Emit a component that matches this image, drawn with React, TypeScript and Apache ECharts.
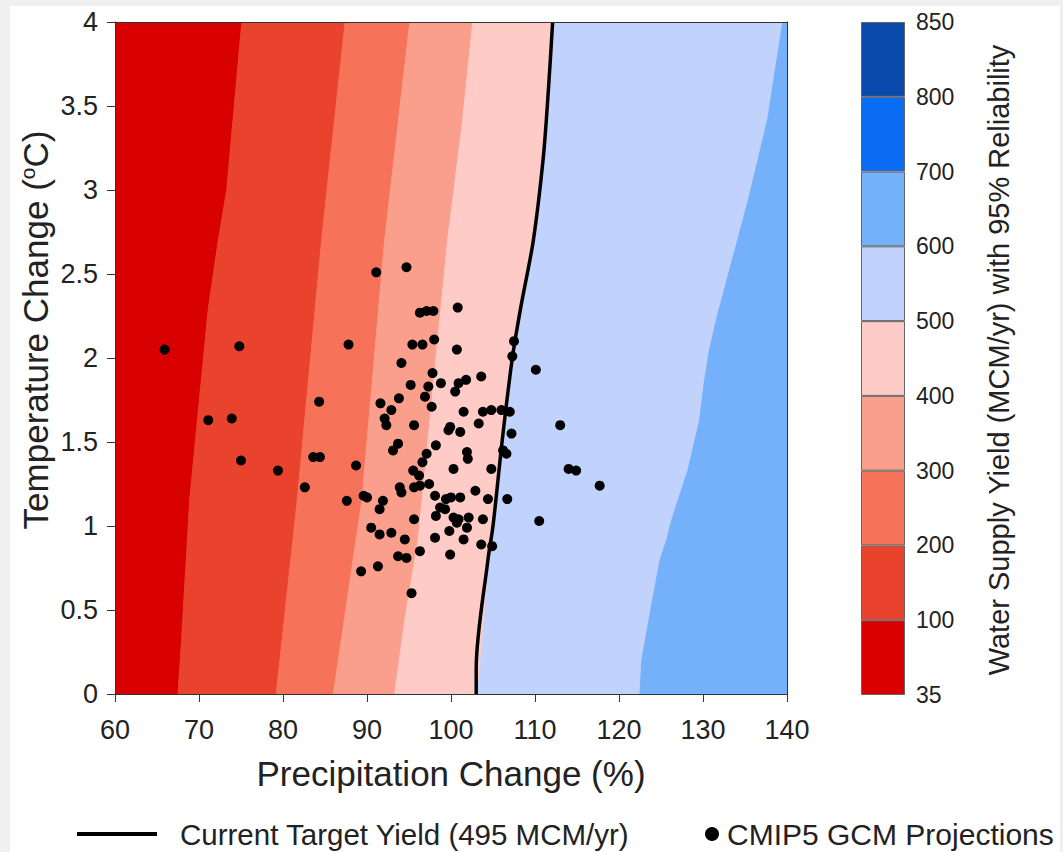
import React, { useEffect, useRef } from 'react';
import * as echarts from 'echarts';

const FONT = '"Liberation Sans", Arial, Helvetica, sans-serif';

// Colour-bar levels (MCM/yr) and band colours, bottom to top
const cbLabels = ['35', '100', '200', '300', '400', '500', '600', '700', '800', '850'];
const cbColors = ['#d80000', '#e9432d', '#f6735a', '#fa9f8b', '#fecbc7', '#c1d3fc', '#75b0fb', '#0a6bf3', '#0a4aad'];

// Contour boundaries: [temperature change, precipitation change]
const b100 = [[0, 67.5], [0.3, 67.9], [1.16, 68.9], [2.29, 71.1], [2.7, 72.3], [3.0, 73.3], [4, 75.1]];
const b200 = [[0, 79.2], [1.155, 81.7], [2.7, 84.6], [4, 87.4]];
const b300 = [[0, 86.0], [1.155, 89.4], [2.7, 92.1], [4, 95.1]];
const b400 = [[0, 93.3], [0.44, 94.5], [0.92, 96.1], [2.7, 99.6], [3.42, 101.4], [4, 102.6]];
const b500 = [[0, 103.2], [0.8, 104.6], [1.0, 105.2], [1.51, 106.3], [2.0, 107.5], [2.3, 108.5], [2.7, 110.0], [3.2, 111.2], [3.6, 111.8], [4, 112.4]];
const b600 = [[0, 122.5], [0.2, 122.7], [0.56, 124.0], [0.8, 124.9], [0.92, 125.7], [1.04, 126.3], [1.33, 128.2], [1.63, 129.6], [1.87, 130.2], [2.03, 130.7], [2.23, 131.6], [2.94, 135.4], [3.42, 137.7], [4, 139.5]];
const leftEdge = [[0, 60], [4, 60]];
const rightEdge = [[0, 140], [4, 140]];
const boundaries = [leftEdge, b100, b200, b300, b400, b500, b600, rightEdge];

// Current target yield (495 MCM/yr) line: [precip, temp]
const targetLine = [[103.0, 0], [103.0, 0.15], [104.4, 0.8], [105.0, 1.0], [106.1, 1.51], [107.3, 2.0], [108.3, 2.3], [109.8, 2.7], [111.0, 3.2], [111.6, 3.6], [112.1, 4]];

// CMIP5 GCM projections: [precip change %, temperature change °C]
const gcmPoints = [
  [65.9, 2.05], [74.8, 2.07], [91.1, 2.51], [94.7, 2.54], [96.3, 2.27], [97.1, 2.28], [97.9, 2.28],
  [87.8, 2.08], [95.4, 2.08], [96.6, 2.08], [98.0, 2.11], [94.1, 1.97], [97.8, 1.91], [95.2, 1.84],
  [97.3, 1.83], [98.8, 1.85], [93.8, 1.76], [96.9, 1.77], [97.7, 1.71], [84.3, 1.74], [91.6, 1.73],
  [92.9, 1.69], [71.1, 1.63], [73.9, 1.64], [92.1, 1.64], [92.3, 1.6], [95.6, 1.6], [98.2, 1.48],
  [93.7, 1.49], [93.1, 1.45], [97.1, 1.43], [96.6, 1.38], [75.0, 1.39], [79.4, 1.33], [83.6, 1.41],
  [84.4, 1.41], [88.7, 1.36], [95.5, 1.33], [96.2, 1.3], [95.6, 1.23], [96.3, 1.24], [97.4, 1.25],
  [93.9, 1.23], [94.1, 1.2], [82.6, 1.23], [98.1, 1.18], [87.6, 1.15], [89.6, 1.18], [90.0, 1.17],
  [99.7, 1.57], [99.9, 1.59], [101.1, 1.56], [103.3, 1.61], [107.2, 1.55], [113.0, 1.6], [101.9, 1.44],
  [102.0, 1.4], [100.3, 1.34], [104.8, 1.34], [106.2, 1.45], [106.6, 1.43], [114.0, 1.34], [114.9, 1.33],
  [117.7, 1.24], [91.9, 1.15], [91.5, 1.1], [99.4, 1.16], [100.0, 1.17], [101.1, 1.17], [102.9, 1.21],
  [104.4, 1.16], [106.7, 1.16], [110.5, 1.03], [98.7, 1.11], [99.3, 1.1], [98.2, 1.06], [100.3, 1.05],
  [100.9, 1.04], [100.7, 1.02], [102.1, 1.05], [103.8, 1.04], [101.9, 0.99], [99.8, 0.97], [95.6, 1.04],
  [90.5, 0.99], [91.5, 0.95], [92.9, 0.96], [94.5, 0.92], [98.1, 0.93], [101.5, 0.92], [103.6, 0.89],
  [104.9, 0.88], [96.3, 0.85], [93.7, 0.82], [94.7, 0.81], [99.9, 0.83], [89.3, 0.73], [91.3, 0.76],
  [95.3, 0.6], [100.8, 2.3], [100.7, 2.05], [107.5, 2.1], [107.3, 2.01], [110.1, 1.93], [100.9, 1.85],
  [101.8, 1.87], [100.5, 1.8], [103.6, 1.89], [101.5, 1.68], [103.8, 1.68], [104.8, 1.69], [106.0, 1.69],
  [107.0, 1.68]
];

const LINE_NAME = 'Current Target Yield (495 MCM/yr)';
const DOT_NAME = 'CMIP5 GCM Projections';

export default function App() {
  const ref = useRef<HTMLDivElement>(null);
  useEffect(() => {
    const chart = echarts.init(ref.current as HTMLDivElement, null, { renderer: 'svg' });
    const axisCol = '#333';
    const bandData = boundaries.slice(0, boundaries.length - 1).map((_, i) => [i]);
    const option: any = {
      animation: false,
      backgroundColor: '#ffffff',
      textStyle: { fontFamily: FONT },
      grid: [
        { left: 105, top: 16, width: 672, height: 672 },
        { left: 851, top: 16, width: 44, height: 673 },
      ],
      xAxis: [
        {
          gridIndex: 0, type: 'value', min: 60, max: 140, interval: 10, z: 10,
          axisLine: { show: true, onZero: false, lineStyle: { color: axisCol, width: 1 } },
          axisTick: { show: true, length: 8, lineStyle: { color: axisCol } },
          axisLabel: { fontSize: 27, color: '#222', margin: 22, fontFamily: FONT },
          splitLine: { show: false },
          name: 'Precipitation Change (%)', nameLocation: 'middle', nameGap: 62,
          nameTextStyle: { fontSize: 35, color: '#222', fontFamily: FONT },
        },
        {
          gridIndex: 0, type: 'value', position: 'top', min: 60, max: 140, z: 10,
          axisLine: { show: true, onZero: false, lineStyle: { color: axisCol, width: 1 } },
          axisTick: { show: false }, axisLabel: { show: false }, splitLine: { show: false },
        },
        { gridIndex: 1, type: 'category', data: [''], show: false },
      ],
      yAxis: [
        {
          gridIndex: 0, type: 'value', min: 0, max: 4, interval: 0.5, z: 10,
          axisLine: { show: true, onZero: false, lineStyle: { color: axisCol, width: 1 } },
          axisTick: { show: true, length: 8, lineStyle: { color: axisCol } },
          axisLabel: { fontSize: 27, color: '#222', margin: 17, fontFamily: FONT },
          splitLine: { show: false },
        },
        {
          gridIndex: 0, type: 'value', position: 'right', min: 0, max: 4, z: 10,
          axisLine: { show: true, onZero: false, lineStyle: { color: axisCol, width: 1 } },
          axisTick: { show: false }, axisLabel: { show: false }, splitLine: { show: false },
        },
        {
          gridIndex: 1, type: 'value', position: 'right', min: 0, max: 9, interval: 1,
          axisLine: { show: false }, axisTick: { show: false }, splitLine: { show: false },
          axisLabel: {
            fontSize: 23, color: '#222', margin: 11, fontFamily: FONT, padding: [4, 0, 0, 0],
            formatter: (v: number) => cbLabels[Math.round(v)],
          },
        },
      ],
      legend: [
        {
          data: [{ name: LINE_NAME, icon: 'rect' }], left: 62, top: 808, itemWidth: 80, itemHeight: 4,
          itemStyle: { color: '#000' },
          textStyle: { fontSize: 29.5, color: '#222', fontFamily: FONT, padding: [0, 0, 0, 18] },
        },
        {
          data: [{ name: DOT_NAME, icon: 'circle' }], left: 690, top: 808, itemWidth: 14, itemHeight: 14,
          itemStyle: { color: '#000', opacity: 1 },
          textStyle: { fontSize: 30, color: '#222', fontFamily: FONT, padding: [0, 0, 0, 3] },
        },
      ],
      graphic: [
        {
          type: 'text', x: 25, y: 324, rotation: Math.PI / 2,
          style: {
            text: 'Temperature Change ({sup|o}C)',
            fontSize: 35, fontFamily: FONT, fill: '#222', align: 'center', verticalAlign: 'middle',
            rich: { sup: { fontSize: 21, fontFamily: FONT, fill: '#222', padding: [0, 0, 15, 0] } },
          },
        },
        {
          type: 'text', x: 989, y: 354, rotation: Math.PI / 2,
          style: {
            text: 'Water Supply Yield (MCM/yr) with 95% Reliability',
            fontSize: 29, fontFamily: FONT, fill: '#222', align: 'center', verticalAlign: 'middle',
          },
        },
      ],
      series: [
        {
          type: 'custom', xAxisIndex: 0, yAxisIndex: 0, z: 1, clip: true, silent: true,
          data: bandData,
          renderItem: (params: any, api: any) => {
            const i = api.value(0);
            const left = boundaries[i];
            const right = boundaries[i + 1];
            const pts = left.map(([t, p]) => api.coord([p, t]))
              .concat(right.slice().reverse().map(([t, p]) => api.coord([p, t])));
            return {
              type: 'polygon',
              shape: { points: pts },
              style: { fill: cbColors[i], stroke: cbColors[i], lineWidth: 1 },
            };
          },
        },
        {
          name: LINE_NAME, type: 'line', xAxisIndex: 0, yAxisIndex: 0, z: 4,
          data: targetLine, symbol: 'none', showSymbol: false, smooth: 0.3,
          lineStyle: { color: '#000', width: 3.5 }, itemStyle: { color: '#000' },
        },
        {
          name: DOT_NAME, type: 'scatter', xAxisIndex: 0, yAxisIndex: 0, z: 5,
          data: gcmPoints, symbolSize: 10, itemStyle: { color: '#000', opacity: 1 },
        },
        ...cbColors.map((c, i) => ({
          name: 'band' + i, type: 'bar', xAxisIndex: 2, yAxisIndex: 2, stack: 'cb',
          data: [1], barWidth: '100%', silent: true,
          itemStyle: { color: c, borderColor: '#666', borderWidth: 1 },
        })),
      ],
    };
    chart.setOption(option);
    return () => chart.dispose();
  }, []);
  return (
    <div style={{ position: 'fixed', left: 0, top: 0, width: 1063, height: 852, background: '#f0f0f0' }}>
      <div ref={ref} style={{ position: 'absolute', left: 10, top: 6, width: 1050, height: 846 }} />
    </div>
  );
}
